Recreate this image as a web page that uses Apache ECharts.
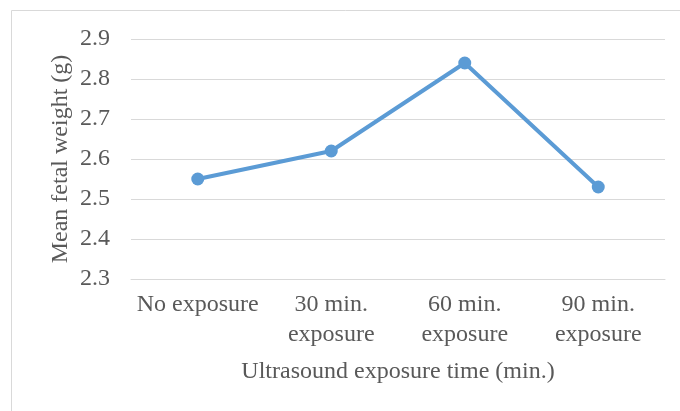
<!DOCTYPE html>
<html><head><meta charset="utf-8">
<script src="https://cdn.jsdelivr.net/npm/echarts@6/dist/echarts.min.js"></script>
<style>html,body{margin:0;padding:0;background:#fff}#c{width:680px;height:411px}</style>
</head><body><div id="c"></div>
<script>
var categories = ['No exposure', '30 min.\nexposure', '60 min.\nexposure', '90 min.\nexposure'];
var values = [2.55, 2.62, 2.84, 2.53];
var yTicks = { min: 2.3, max: 2.9, interval: 0.1 };
var font = 'Liberation Serif';
var chart = echarts.init(document.getElementById('c'));
chart.setOption({
  animation: false,
  graphic: [
    { type: 'polyline', shape: { points: [[11.5, 411], [11.5, 10.5], [680, 10.5]] }, style: { fill: 'none', stroke: '#d9d9d9', lineWidth: 1 }, silent: true }
  ],
  grid: { left: 131, right: 15, top: 39, bottom: 132 },
  xAxis: {
    type: 'category', data: categories, boundaryGap: true,
    axisLine: { show: true, lineStyle: { color: '#d9d9d9', width: 1 } },
    axisTick: { show: false },
    axisLabel: { fontFamily: font, fontSize: 24, color: '#595959', lineHeight: 30, margin: 11, interval: 0 },
    name: 'Ultrasound exposure time (min.)', nameLocation: 'middle', nameGap: 81,
    nameTextStyle: { fontFamily: font, fontSize: 24, color: '#595959' }
  },
  yAxis: {
    type: 'value', min: yTicks.min, max: yTicks.max, interval: yTicks.interval,
    axisLine: { show: false }, axisTick: { show: false },
    splitLine: { lineStyle: { color: '#d9d9d9', width: 1 } },
    axisLabel: { fontFamily: font, fontSize: 24, color: '#595959', margin: 21, formatter: function(v){ return v.toFixed(1); } },
    name: 'Mean fetal weight (g)', nameLocation: 'middle', nameGap: 58, nameRotate: 90, nameMoveOverlap: false,
    nameTextStyle: { fontFamily: font, fontSize: 24, color: '#595959' }
  },
  series: [{
    type: 'line', data: values, symbol: 'circle', symbolSize: 13,
    lineStyle: { color: '#5b9bd5', width: 4 }, itemStyle: { color: '#5b9bd5' }
  }]
});
</script></body></html>
